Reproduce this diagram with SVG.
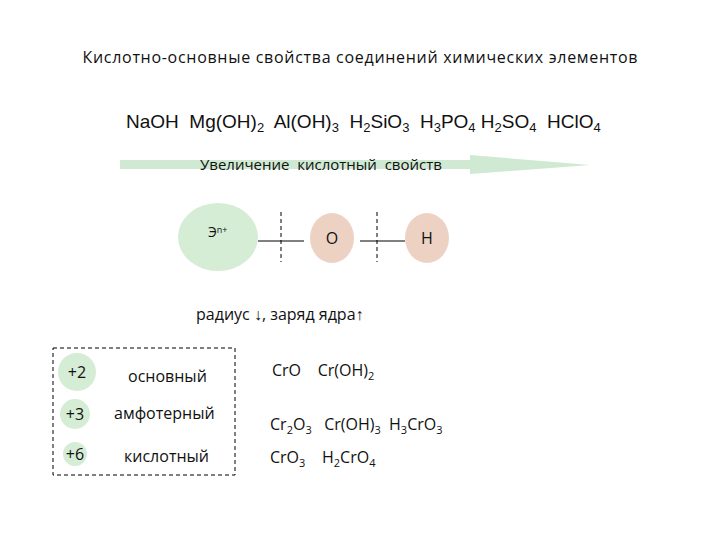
<svg xmlns="http://www.w3.org/2000/svg" width="720" height="540" viewBox="0 0 720 540">
<style>
text{font-family:"Liberation Sans","DejaVu Sans",sans-serif;fill:#111;white-space:pre}
.c{font-family:"Open Sans","Liberation Sans",sans-serif}
.g{fill:#d5ecd5}.p{fill:#edd2c4}
.s{stroke:#000;stroke-width:1;fill:none}.d{stroke:#000;stroke-width:1;stroke-dasharray:4 3;fill:none}
</style>
<rect width="720" height="540" fill="#fff"/>
<text x="360" y="63" font-size="16" text-anchor="middle" class="c" textLength="555">Кислотно-основные свойства соединений химических элементов</text>
<text x="126" y="128" font-size="19" xml:space="preserve">NaOH  Mg(OH)<tspan font-size="13" dy="4">2</tspan><tspan dy="-4">  Al(OH)</tspan><tspan font-size="13" dy="4">3</tspan><tspan dy="-4">  H</tspan><tspan font-size="13" dy="4">2</tspan><tspan dy="-4">SiO</tspan><tspan font-size="13" dy="4">3</tspan><tspan dy="-4">  H</tspan><tspan font-size="13" dy="4">3</tspan><tspan dy="-4">PO</tspan><tspan font-size="13" dy="4">4</tspan><tspan dy="-4"> H</tspan><tspan font-size="13" dy="4">2</tspan><tspan dy="-4">SO</tspan><tspan font-size="13" dy="4">4</tspan><tspan dy="-4">  HClO</tspan><tspan font-size="13" dy="4">4</tspan></text>
<g id="arrow"><polygon points="120,160 470,160 470,155 590,165 470,174 470,169 120,169" fill="#cfe9d2"/>
<text x="200" y="170" font-size="15" class="c" xml:space="preserve">Увеличение  кислотный  свойств</text></g>
<g id="connectors">
<line class="s" x1="258" y1="241" x2="304" y2="241"/><line class="s" x1="360" y1="241" x2="405" y2="241"/>
<line class="d" x1="281" y1="212" x2="281" y2="262"/><line class="d" x1="377" y1="212" x2="377" y2="262"/>
</g>
<g id="E"><ellipse class="g" cx="218" cy="237" rx="40" ry="34"/><text x="208" y="237" font-size="14" class="c">Э<tspan font-size="9" dy="-4">n+</tspan></text></g>
<g id="O"><ellipse class="p" cx="332" cy="238" rx="22" ry="25"/><text x="332" y="244" font-size="16" text-anchor="middle" class="c">O</text></g>
<g id="H"><ellipse class="p" cx="427" cy="238" rx="22" ry="25"/><text x="427" y="244" font-size="16" text-anchor="middle" class="c">H</text></g>
<text x="196" y="320" font-size="16" class="c">радиус ↓, заряд ядра↑</text>
<rect class="d" x="53" y="348" width="182" height="127"/>
<g id="p2"><circle class="g" cx="77" cy="372" r="19"/><text x="77" y="378" font-size="16" text-anchor="middle" class="c">+2</text><text x="128" y="382" font-size="16" class="c">основный</text></g>
<g id="p3"><circle class="g" cx="75" cy="414" r="15"/><text x="75" y="420" font-size="16" text-anchor="middle" class="c">+3</text><text x="114" y="419" font-size="16" class="c">амфотерный</text></g>
<g id="p6"><circle class="g" cx="75" cy="454" r="12"/><text x="75" y="460" font-size="16" text-anchor="middle" class="c">+6</text><text x="124" y="462" font-size="16" class="c">кислотный</text></g>
<g font-size="16">
<text x="272" y="376" class="c" xml:space="preserve">CrO    Cr(OH)<tspan font-size="11" dy="4">2</tspan></text>
<text x="270" y="430" class="c" xml:space="preserve">Cr<tspan font-size="11" dy="4">2</tspan><tspan dy="-4">O</tspan><tspan font-size="11" dy="4">3</tspan><tspan dy="-4">   Cr(OH)</tspan><tspan font-size="11" dy="4">3</tspan><tspan dy="-4">  H</tspan><tspan font-size="11" dy="4">3</tspan><tspan dy="-4">CrO</tspan><tspan font-size="11" dy="4">3</tspan></text>
<text x="270" y="463" class="c" xml:space="preserve">CrO<tspan font-size="11" dy="4">3</tspan><tspan dy="-4">    H</tspan><tspan font-size="11" dy="4">2</tspan><tspan dy="-4">CrO</tspan><tspan font-size="11" dy="4">4</tspan></text>
</g>
</svg>
